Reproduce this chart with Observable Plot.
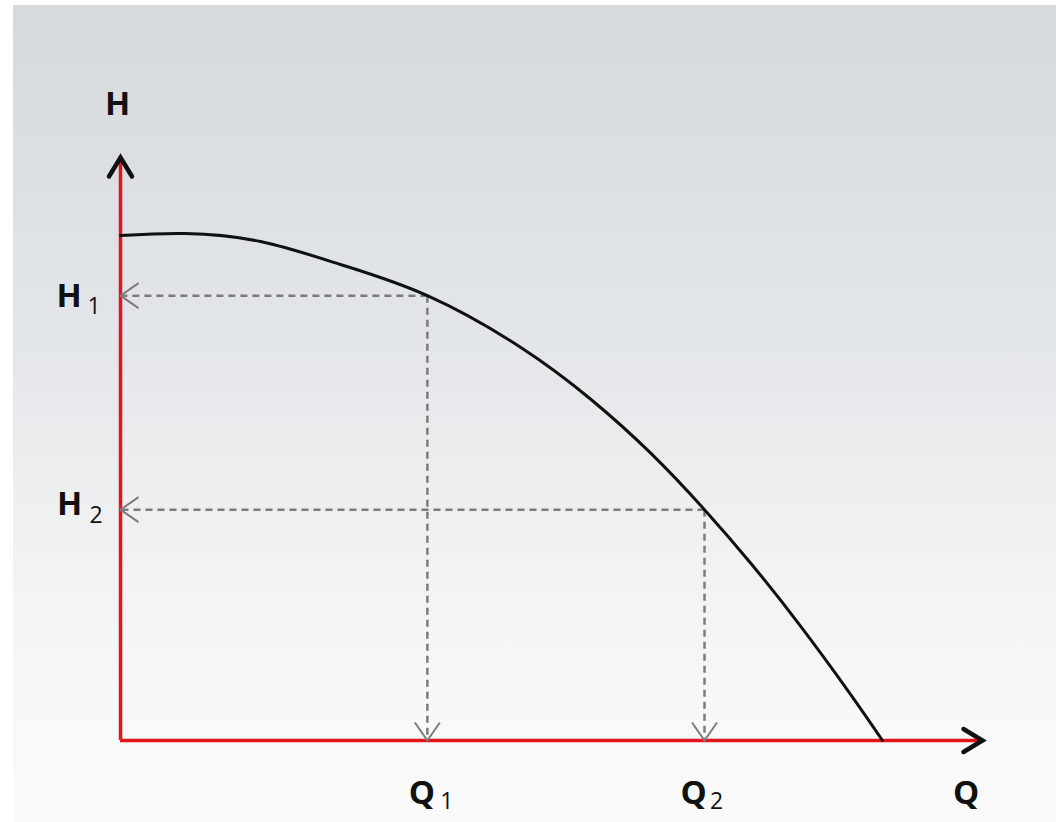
<!DOCTYPE html>
<html>
<head>
<meta charset="utf-8">
<script src="https://cdn.jsdelivr.net/npm/d3@7"></script>
<script src="https://cdn.jsdelivr.net/npm/@observablehq/plot@0.6"></script>
<style>
  html, body { margin: 0; padding: 0; background: #ffffff; }
  #wrap { position: relative; width: 1056px; height: 822px; overflow: hidden; }
  #bg { position: absolute; left: 13px; top: 5px; right: 0; bottom: 0;
        background: linear-gradient(to bottom, #d5d9dc 0%, #e3e6e8 40%, #eff1f2 65%, #f7f8f8 85%, #fafafa 100%); }
  #chart { position: absolute; left: 0; top: 0; }
</style>
</head>
<body>
<div id="wrap"><div id="bg"></div><div id="chart"></div></div>
<script>
// ---- data ----
// pump curve: flow Q (0..100 axis units) and head H (0..100 axis units)
const curveQ = [0, 7.54, 16.24, 25.52, 35.6, 46.4, 54.52, 61.48, 67.75, 73.09, 78.89, 84.69, 88.4];
const curveH = [86.62, 86.96, 85.59, 81.65, 76.3, 67.46, 58.58, 49.33, 39.6, 30.45, 19.62, 7.92, 0];

// operating points
const pointSubs = ["1", "2"];
const pointQ = [35.6, 67.75];
const pointH = [76.3, 39.6];

// axis titles and extents
const axisNames = ["H", "Q"];
const axisMax = [100, 100]; // H max, Q max

// ---- build tables ----
const curve = curveQ.map((q, i) => ({q, h: curveH[i]}));
const points = pointSubs.map((s, i) => ({s, q: pointQ[i], h: pointH[i]}));
const Hmax = axisMax[0], Qmax = axisMax[1];

const RED = "#e3141e";
const DASH = "#7c7c7c";
const INK = "#111111";
const FONT = "'Open Sans', 'DejaVu Sans', sans-serif";

// open chevron symbols (tip at origin, pointing up)
const smallChevron = {draw(ctx) { ctx.moveTo(-12.5, 18); ctx.lineTo(0, 0); ctx.lineTo(12.5, 18); }};
const bigChevron = {draw(ctx) { ctx.moveTo(-11.5, 19); ctx.lineTo(0, 0); ctx.lineTo(11.5, 19); }};

const big = {fontFamily: FONT, fontWeight: "bold", fontSize: 33, fill: INK};
const small = {fontFamily: FONT, fontWeight: "normal", fontSize: 23, fill: INK};

const plot = Plot.plot({
  width: 1056,
  height: 822,
  marginLeft: 120,
  marginRight: 74,
  marginTop: 157,
  marginBottom: 82,
  style: {background: "transparent", overflow: "visible"},
  x: {domain: [0, Qmax], axis: null},
  y: {domain: [0, Hmax], axis: null},
  marks: [
    // dashed guide lines
    Plot.link(points, {x1: "q", y1: "h", x2: 0, y2: "h", stroke: DASH, strokeWidth: 2.5, strokeDasharray: "7,5"}),
    Plot.link(points, {x1: "q", y1: "h", x2: "q", y2: 0, stroke: DASH, strokeWidth: 2.5, strokeDasharray: "7,5"}),
    // red axes
    Plot.ruleX([0], {y1: 0, y2: Hmax, stroke: RED, strokeWidth: 3.5}),
    Plot.ruleY([0], {x1: 0, x2: Qmax, stroke: RED, strokeWidth: 3.5}),
    // pump curve
    Plot.line(curve, {x: "q", y: "h", curve: "natural", stroke: INK, strokeWidth: 3}),
    // open arrowheads of the guide lines
    Plot.dot(points, {x: 0, y: "h", symbol: smallChevron, rotate: 270, fill: "none", stroke: DASH, strokeWidth: 2}),
    Plot.dot(points, {x: "q", y: 0, symbol: smallChevron, rotate: 180, fill: "none", stroke: DASH, strokeWidth: 2}),
    // black axis arrowheads
    Plot.dot([Hmax], {x: 0, y: d => d, symbol: bigChevron, rotate: 0, fill: "none", stroke: INK, strokeWidth: 4.5, strokeLinecap: "round", strokeLinejoin: "miter"}),
    Plot.dot([Qmax], {x: d => d, y: 0, symbol: bigChevron, rotate: 90, fill: "none", stroke: INK, strokeWidth: 4.5, strokeLinecap: "round", strokeLinejoin: "miter"}),
    // axis titles
    Plot.text([axisNames[0]], {x: 0, y: Hmax, text: d => d, dx: -3, dy: -53.5, ...big}),
    Plot.text([axisNames[1]], {x: Qmax, y: 0, text: d => d, dx: -16.5, dy: 52.5, ...big}),
    // H1 / H2 labels
    Plot.text([points[0]], {x: 0, y: "h", text: () => axisNames[0], dx: -51.5, dy: 0.5, ...big}),
    Plot.text([points[0]], {x: 0, y: "h", text: "s", dx: -26.5, dy: 10.6, ...small}),
    Plot.text([points[1]], {x: 0, y: "h", text: () => axisNames[0], dx: -51, dy: -5.5, ...big}),
    Plot.text([points[1]], {x: 0, y: "h", text: "s", dx: -24.5, dy: 5.6, ...small}),
    // Q1 / Q2 labels
    Plot.text([points[0]], {x: "q", y: 0, text: () => axisNames[1], dx: -5.5, dy: 52.5, ...big}),
    Plot.text([points[0]], {x: "q", y: 0, text: "s", dx: 19.5, dy: 61.6, ...small}),
    Plot.text([points[1]], {x: "q", y: 0, text: () => axisNames[1], dx: -11, dy: 52.5, ...big}),
    Plot.text([points[1]], {x: "q", y: 0, text: "s", dx: 12, dy: 61.6, ...small})
  ]
});
document.getElementById("chart").appendChild(plot);
</script>
</body>
</html>
